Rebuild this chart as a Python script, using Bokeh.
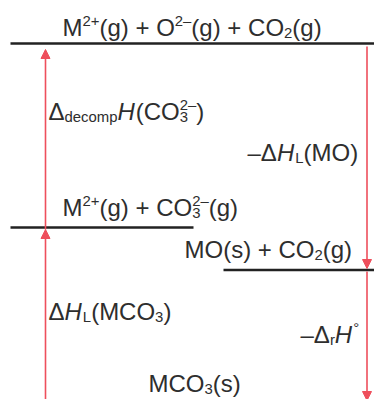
from bokeh.plotting import figure
from bokeh.models import Range1d, Arrow, NormalHead, ColumnDataSource
from bokeh.embed import file_html
from bokeh.resources import INLINE
from bokeh.core.properties import value

# ---- diagram data (reference pixel space: x right, y down) ----
# energy levels
level_y = [43, 227, 269.5]
level_x0 = [10, 10, 223]
level_x1 = [380, 193, 380]

# arrows (x, y_start, y_end)
arrow_x = [45, 45, 366.5, 366.5]
arrow_y0 = [410, 229, 46, 271]
arrow_y1 = [229, 49, 268, 400]

# labels: runs of (text, kind); kinds: n normal, i italic, p sup, b sub, s stacked (sub, sup)
label_runs = [
    [("M", "n"), ("2+", "p"), ("(g) + O", "n"), ("2–", "p"), ("(g) + CO", "n"), ("2", "b"), ("(g)", "n")],
    [("Δ", "n"), ("decomp", "b"), ("H", "i"), ("(CO", "n"), (("3", "2–"), "s"), (")", "n")],
    [("–Δ", "n"), ("H", "i"), ("L", "b"), ("(MO)", "n")],
    [("M", "n"), ("2+", "p"), ("(g) + CO", "n"), (("3", "2–"), "s"), ("(g)", "n")],
    [("MO(s) + CO", "n"), ("2", "b"), ("(g)", "n")],
    [("Δ", "n"), ("H", "i"), ("L", "b"), ("(MCO", "n"), ("3", "b"), (")", "n")],
    [("–Δ", "n"), ("r", "b"), ("H", "i"), ("°", "p")],
    [("MCO", "n"), ("3", "b"), ("(s)", "n")],
]
label_x = [62, 48, 247, 62, 184, 48, 300, 148]
label_base = [27, 111, 152, 207, 249, 311, 334, 383]

FONT = "Liberation Sans"
S = 24
TEXT_C = "#2e2e2e"
LINE_C = "#222222"
RED = "#ee4f5c"

W = {' ': 278, '(': 333, ')': 333, '+': 584, '–': 556, '−': 584, 'M': 833, 'O': 778,
     'C': 722, 'H': 722, 'L': 556, 'g': 556, 's': 500, 'd': 556, 'e': 556, 'c': 500,
     'o': 556, 'm': 833, 'p': 556, 'r': 333, 'Δ': 668, '°': 400}


def tw(s, size):
    return sum(W.get(ch, 556) for ch in s) / 1000 * size


xs, ys, txt, sizes, styles = [], [], [], [], []


def put(t, x, y, size, style):
    xs.append(x); ys.append(y); txt.append(t)
    sizes.append(f"{size:.1f}px"); styles.append(style)


for runs, x0, base in zip(label_runs, label_x, label_base):
    x = x0
    for t, k in runs:
        small = S * 0.62
        if k == "n":
            put(t, x, base, S, "normal"); x += tw(t, S)
        elif k == "i":
            put(t, x, base, S, "italic"); x += tw(t, S) + 1
        elif k == "p":
            put(t, x, base - 0.28 * S, small, "normal"); x += tw(t, small)
        elif k == "b":
            put(t, x, base + 0.24 * S, small, "normal"); x += tw(t, small)
        elif k == "s":
            sub, sup = t
            put(sub, x, base + 0.24 * S, small, "normal")
            put(sup, x, base - 0.28 * S, small, "normal")
            x += max(tw(sub, small), tw(sup, small))

p = figure(width=374, height=399, output_backend="svg", toolbar_location=None,
           x_range=Range1d(0, 374), y_range=Range1d(399, 0),
           min_border=0, outline_line_color=None)
p.axis.visible = False
p.grid.visible = False
p.background_fill_color = "white"
p.border_fill_color = "white"

p.segment(x0=level_x0, y0=level_y, x1=level_x1, y1=level_y, line_color=LINE_C, line_width=2.3)

asrc = ColumnDataSource(dict(x=arrow_x, y0=arrow_y0, y1=arrow_y1))
p.add_layout(Arrow(end=NormalHead(size=9, fill_color=RED, line_color=RED, line_width=1),
                   x_start="x", y_start="y0", x_end="x", y_end="y1", source=asrc,
                   line_color=RED, line_width=1.6))

tsrc = ColumnDataSource(dict(x=xs, y=ys, t=txt, size=sizes, style=styles))
p.text(x="x", y="y", text="t", source=tsrc, text_font=value(FONT), text_font_size="size",
       text_font_style="style", text_color=TEXT_C, text_align="left", text_baseline="alphabetic")

open("out.html", "w").write(file_html(p, INLINE))
